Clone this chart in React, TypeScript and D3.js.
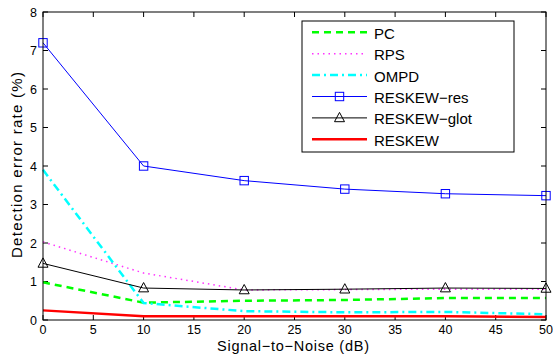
import * as d3 from 'd3';

// SNR values on the x axis (dB)
const snr = [0, 10, 20, 30, 40, 50];

// detection error rate (%) for each method
const pc = [0.98, 0.45, 0.5, 0.52, 0.57, 0.57];
const rps = [2.03, 1.22, 0.78, 0.79, 0.8, 0.8];
const ompd = [3.9, 0.44, 0.23, 0.2, 0.21, 0.15];
const reskewRes = [7.2, 4.0, 3.62, 3.4, 3.28, 3.23];
const reskewGlot = [1.47, 0.83, 0.78, 0.8, 0.83, 0.82];
const reskew = [0.25, 0.1, 0.1, 0.1, 0.1, 0.08];

const xTicks = [0, 5, 10, 15, 20, 25, 30, 35, 40, 45, 50];
const yTicks = [0, 1, 2, 3, 4, 5, 6, 7, 8];

const series = [
  { name: 'PC', values: pc, color: '#00ff00', width: 2.5, dash: '7,5', marker: '' },
  { name: 'RPS', values: rps, color: '#ff33ff', width: 1.5, dash: '1.5,4', marker: '' },
  { name: 'OMPD', values: ompd, color: '#00ffff', width: 2.5, dash: '8,4,2,4', marker: '' },
  { name: 'RESKEW−res', values: reskewRes, color: '#0000ff', width: 1, dash: '', marker: 'square' },
  { name: 'RESKEW−glot', values: reskewGlot, color: '#000000', width: 1, dash: '', marker: 'triangle' },
  { name: 'RESKEW', values: reskew, color: '#ff0000', width: 2.5, dash: '', marker: '' },
];

const W = 553;
const H = 360;
const left = 43;
const right = 546;
const top = 12;
const bottom = 320;

export default function App() {
  const x = d3.scaleLinear().domain([0, 50]).range([left, right]);
  const y = d3.scaleLinear().domain([0, 8]).range([bottom, top]);
  const line = d3.line<number>()
    .x((_, i) => x(snr[i]))
    .y(d => y(d));
  const font = 'Liberation Sans, Arial, sans-serif';

  const marker = (kind: string, cx: number, cy: number, color: string, key: string) => {
    if (kind === 'square') {
      return <rect key={key} x={cx - 4.2} y={cy - 4.2} width={8.4} height={8.4} fill="none" stroke={color} strokeWidth={1} />;
    }
    if (kind === 'triangle') {
      return <path key={key} d={`M${cx},${cy - 5.5}L${cx + 5},${cy + 3.8}L${cx - 5},${cy + 3.8}Z`} fill="none" stroke={color} strokeWidth={1} />;
    }
    return null;
  };

  // legend position
  const lgX = 302, lgY = 21, lgW = 212, lgH = 131, lgStep = 21.4;

  return (
    <svg width={W} height={H} style={{ position: 'absolute', left: 0, top: 0, background: '#fff' }}>
      <rect width={W} height={H} fill="#fff" />
      {/* ticks, inward on all four sides */}
      {xTicks.map(t => (
        <g key={'xt' + t}>
          <line x1={x(t)} x2={x(t)} y1={bottom} y2={bottom - 5} stroke="#000" />
          <line x1={x(t)} x2={x(t)} y1={top} y2={top + 5} stroke="#000" />
          <text x={x(t)} y={bottom + 14} textAnchor="middle" fontSize={12.5} fontFamily={font}>{t}</text>
        </g>
      ))}
      {yTicks.map(t => (
        <g key={'yt' + t}>
          <line x1={left} x2={left + 5} y1={y(t)} y2={y(t)} stroke="#000" />
          <line x1={right} x2={right - 5} y1={y(t)} y2={y(t)} stroke="#000" />
          <text x={left - 6} y={y(t) + 4.5} textAnchor="end" fontSize={12.5} fontFamily={font}>{t}</text>
        </g>
      ))}

      {series.map(s => (
        <g key={s.name}>
          <path d={line(s.values) || ''} fill="none" stroke={s.color} strokeWidth={s.width}
            strokeDasharray={s.dash || undefined} />
          {s.values.map((v, i) => marker(s.marker, x(snr[i]), y(v), s.color, s.name + i))}
        </g>
      ))}

      <rect x={left} y={top} width={right - left} height={bottom - top} fill="none" stroke="#000" strokeWidth={1} />

      {/* legend */}
      <rect x={lgX} y={lgY} width={lgW} height={lgH} fill="#fff" stroke="#000" strokeWidth={1} />
      {series.map((s, i) => {
        const ly = lgY + 11.3 + i * lgStep;
        return (
          <g key={'lg' + s.name}>
            <line x1={312} x2={367} y1={ly} y2={ly} stroke={s.color} strokeWidth={s.width}
              strokeDasharray={s.dash || undefined} />
            {marker(s.marker, 339.5, ly, s.color, 'lm' + i)}
            <text x={374} y={ly + 6.5} fontSize={15} fontFamily={font}>{s.name}</text>
          </g>
        );
      })}

      <text x={293} y={351} textAnchor="middle" fontSize={14.5} fontFamily={font}
        textLength={152} lengthAdjust="spacing">Signal−to−Noise (dB)</text>
      <text transform="translate(22,165) rotate(-90)" textAnchor="middle" fontSize={15} fontFamily={font}
        textLength={186} lengthAdjust="spacing">Detection error rate (%)</text>
    </svg>
  );
}
